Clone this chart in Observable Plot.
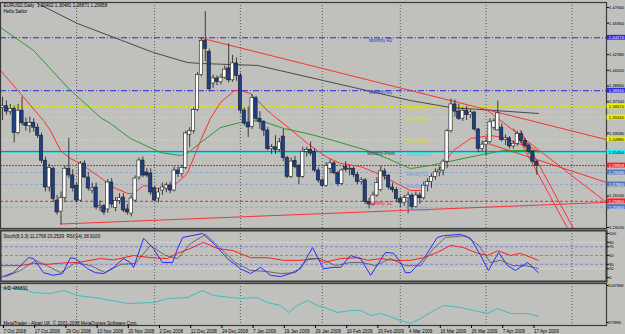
<!DOCTYPE html>
<html><head><meta charset="utf-8">
<script src="https://cdn.jsdelivr.net/npm/d3@7"></script>
<script src="https://cdn.jsdelivr.net/npm/@observablehq/plot@0.6"></script>
<style>
html,body{margin:0;padding:0;background:#c0c0bc;width:625px;height:334px;overflow:hidden}
#main,#stoch,#ad{position:absolute;left:0}
#main{top:0}#stoch{top:229px}#ad{top:282px}
svg{display:block}
</style></head><body>
<div id="main"></div><div id="stoch"></div><div id="ad"></div>
<script>
// ---------- DATA ----------
const title = "EURUSD,Daily  1.30402 1.30481 1.28871 1.29958";
const subtitle = "Hello Sailor";
const open = [1.3640,1.3660,1.3600,1.3630,1.3360,1.3610,1.3470,1.3440,1.3475,1.3420,1.3330,1.3050,1.2750,1.2960,1.2604,1.2480,1.2630,1.2960,1.2885,1.2770,1.2604,1.3018,1.2862,1.2716,1.2750,1.2526,1.2540,1.2504,1.2806,1.2520,1.2600,1.2638,1.2504,1.2458,1.2604,1.2862,1.3052,1.2918,1.2907,1.2739,1.2627,1.2716,1.2739,1.2773,1.2716,1.2940,1.2900,1.2970,1.3340,1.3380,1.3620,1.4010,1.4390,1.4270,1.3915,1.3971,1.3930,1.3980,1.4084,1.3950,1.4140,1.4000,1.3612,1.3470,1.3430,1.3750,1.3520,1.3480,1.3388,1.3180,1.3200,1.3170,1.3320,1.3080,1.2870,1.3050,1.2990,1.2870,1.3150,1.3170,1.3150,1.2940,1.2828,1.2770,1.2960,1.3020,1.2910,1.2790,1.2980,1.2950,1.2960,1.2890,1.2810,1.2830,1.2590,1.2560,1.2660,1.2720,1.2930,1.2880,1.2750,1.2720,1.2620,1.2580,1.2630,1.2660,1.2530,1.2660,1.2630,1.2770,1.2810,1.2870,1.2920,1.2940,1.3040,1.3380,1.3680,1.3600,1.3520,1.3610,1.3560,1.3590,1.3400,1.3180,1.3230,1.3260,1.3420,1.3390,1.3420,1.3280,1.3300,1.3210,1.3240,1.3350,1.3270,1.3220,1.3150,1.30402];
const high = [1.3760,1.3720,1.3680,1.3660,1.3680,1.3760,1.3530,1.3540,1.3520,1.3460,1.3360,1.3090,1.3010,1.2980,1.2660,1.2700,1.2990,1.3300,1.2950,1.2800,1.3040,1.3050,1.2920,1.2800,1.2800,1.2600,1.2560,1.2840,1.2850,1.2640,1.2680,1.2680,1.2560,1.2660,1.2880,1.3080,1.3090,1.2960,1.2960,1.2760,1.2740,1.2800,1.2800,1.2810,1.2980,1.2980,1.3000,1.3380,1.3420,1.3640,1.4040,1.4420,1.4720,1.4300,1.4010,1.4000,1.4020,1.4110,1.4360,1.4230,1.4200,1.4030,1.3640,1.3650,1.3790,1.3770,1.3600,1.3500,1.3420,1.3230,1.3330,1.3300,1.3400,1.3100,1.3080,1.3100,1.3010,1.3200,1.3200,1.3260,1.3180,1.2970,1.2850,1.3030,1.3060,1.3040,1.2930,1.2960,1.3040,1.2990,1.2980,1.2920,1.2860,1.2850,1.2630,1.2700,1.2860,1.2990,1.2960,1.2900,1.2800,1.2750,1.2650,1.2660,1.2700,1.2680,1.2700,1.2690,1.2810,1.2850,1.2900,1.2960,1.2980,1.3060,1.3400,1.3740,1.3730,1.3680,1.3640,1.3660,1.3620,1.3600,1.3410,1.3270,1.3300,1.3520,1.3520,1.3720,1.3460,1.3340,1.3320,1.3270,1.3380,1.3380,1.3300,1.3240,1.3160,1.30481];
const low = [1.3500,1.3560,1.3560,1.3250,1.3340,1.3440,1.3380,1.3360,1.3370,1.3300,1.3020,1.2700,1.2700,1.2580,1.2440,1.2330,1.2580,1.2850,1.2700,1.2580,1.2590,1.2850,1.2710,1.2680,1.2500,1.2480,1.2440,1.2460,1.2520,1.2480,1.2560,1.2470,1.2440,1.2420,1.2580,1.2830,1.2860,1.2860,1.2660,1.2590,1.2580,1.2660,1.2690,1.2680,1.2700,1.2860,1.2860,1.2950,1.3200,1.3350,1.3600,1.3990,1.4160,1.3820,1.3860,1.3890,1.3900,1.3960,1.3920,1.3930,1.3940,1.3580,1.3440,1.3310,1.3400,1.3490,1.3400,1.3320,1.3160,1.3120,1.3120,1.3150,1.3040,1.2850,1.2850,1.2960,1.2780,1.2850,1.3090,1.3100,1.2920,1.2800,1.2750,1.2750,1.2900,1.2890,1.2760,1.2770,1.2920,1.2880,1.2860,1.2780,1.2780,1.2560,1.2510,1.2540,1.2640,1.2700,1.2830,1.2720,1.2690,1.2580,1.2520,1.2540,1.2457,1.2500,1.2520,1.2560,1.2610,1.2700,1.2740,1.2830,1.2870,1.2880,1.2960,1.3360,1.3540,1.3500,1.3490,1.3500,1.3520,1.3380,1.3140,1.3150,1.3110,1.3240,1.3390,1.3380,1.3260,1.3220,1.3180,1.3180,1.3210,1.3240,1.3190,1.3120,1.3020,1.28871];
const close = [1.3660,1.3600,1.3630,1.3360,1.3610,1.3470,1.3440,1.3475,1.3420,1.3330,1.3050,1.2750,1.2970,1.2620,1.2470,1.2630,1.2960,1.2885,1.2740,1.2604,1.3018,1.2862,1.2739,1.2739,1.2526,1.2540,1.2470,1.2806,1.2560,1.2600,1.2630,1.2492,1.2470,1.2627,1.2850,1.3052,1.2884,1.2884,1.2694,1.2604,1.2694,1.2750,1.2773,1.2716,1.2940,1.2900,1.2970,1.3355,1.3380,1.3620,1.4010,1.4390,1.4300,1.3850,1.3971,1.3930,1.3980,1.4070,1.3950,1.4140,1.4000,1.3612,1.3466,1.3422,1.3750,1.3520,1.3480,1.3388,1.3180,1.3200,1.3170,1.3255,1.3080,1.2870,1.3040,1.2980,1.2870,1.3150,1.3170,1.3130,1.2940,1.2828,1.2770,1.2990,1.3020,1.2910,1.2790,1.2940,1.2950,1.2960,1.2890,1.2810,1.2830,1.2590,1.2560,1.2660,1.2800,1.2930,1.2880,1.2750,1.2720,1.2620,1.2580,1.2630,1.2660,1.2530,1.2660,1.2630,1.2770,1.2810,1.2870,1.2920,1.2940,1.3040,1.3380,1.3680,1.3600,1.3520,1.3610,1.3560,1.3590,1.3400,1.3180,1.3230,1.3260,1.3480,1.3490,1.3580,1.3280,1.3300,1.3210,1.3240,1.3350,1.3270,1.3220,1.3150,1.3040,1.29958];

// x-axis date labels (bar index of each label)
const dateTickIdx = [0,8,16,24,32,40,48,56,64,72,80,88,96,104,112,120,128,136];
const dateLabels = ["7 Oct 2008","17 Oct 2008","29 Oct 2008","10 Nov 2008","20 Nov 2008","2 Dec 2008","12 Dec 2008","24 Dec 2008","7 Jan 2009","19 Jan 2009","29 Jan 2009","10 Feb 2009","20 Feb 2009","4 Mar 2009","16 Mar 2009","26 Mar 2009","7 Apr 2009","17 Apr 2009"];
// month separators (bar index)
const sepIdx = [19,39,61,82,102,124,146];
// price axis ticks
const priceTicks = [1.4766,1.4590,1.4414,1.4238,1.4062,1.3886,1.3710,1.3534,1.3358,1.3182,1.3006,1.2830,1.2654,1.2478,1.2302];

// pivot levels
const levelNames  = ["Monthly R2","Monthly R1","Weekly R3","Weekly R2","Weekly R1","Monthly Pivot","WeeklyPivot","Weekly S1","Weekly S2","Monthly S1","Weekly S3"];
const levelValues = [1.44270,1.38340,1.36570,1.35340,1.32880,1.31540,1.31450,1.29180,1.27840,1.25950,1.25300];
const levelLineColors = ["#2a2ae0","#2a2ae0","#e6e600","#e6e600","#e6e600","#2050c8","#20d8e0","#90a8d8","#90a8d8","#e02838","#90a8d8"];
const levelTextColors = ["#3030d8","#3030d8","#dede00","#dede00","#dede00","#303040","#20e0e8","#7c98d8","#7c98d8","#e02838","#7c98d8"];
const levelBoxColors  = ["#2a2ae0","#2a2ae0","#f0f000","#f0f000","#f0f000",null,"#20f0f8","#4f78c0","#4f78c0","#f02030","#4f78c0"];
const levelDash = ["6,2,1,2","6,2,1,2","3,2","3,2","3,2",null,null,"3,2","3,2","3,2","3,2"];
const levelLabelIdx = [94,94,103.5,103.5,103.5,93.5,103.5,103.5,103.5,94,103.5];
const priceNow = 1.29958;

// moving averages: [bar index, price]
const maSlow = [[9.0,1.4811],[19.2,1.4587],[38.7,1.4262],[47.4,1.4150],[50.8,1.4139],[65.4,1.4117],[82.3,1.3948],[104.6,1.3724],[114.9,1.3646],[137.4,1.3579]];
const maMid = [[-0.5,1.4542],[8,1.4284],[16.7,1.3870],[25.1,1.3534],[27.7,1.3467],[32.8,1.3299],[40.5,1.3142],[45.6,1.3108],[47.4,1.3131],[50.8,1.3254],[55.9,1.3422],[61,1.3478],[66.2,1.3500],[72.1,1.3411],[78.2,1.3354],[84.9,1.3276],[93.6,1.3164],[98.7,1.3075],[104.6,1.2962],[109.7,1.2996],[121.8,1.3108],[128.5,1.3164],[137.2,1.3164]];
const maFast = [[-0.5,1.4060],[4.6,1.3802],[10.5,1.3500],[12.3,1.3388],[14.9,1.3164],[17.4,1.3074],[20,1.3019],[21.8,1.2962],[25.1,1.2862],[28.5,1.2750],[32.1,1.2683],[33.6,1.2683],[36.2,1.2772],[39.7,1.2739],[42.3,1.2750],[44.9,1.2806],[47.4,1.2906],[50.8,1.3276],[53.3,1.3522],[55.9,1.3702],[59.5,1.3836],[61,1.3836],[63.6,1.3802],[65.4,1.3724],[67.9,1.3612],[72.6,1.3444],[76.4,1.3310],[78.2,1.3242],[83.3,1.3086],[86.7,1.3019],[91.8,1.2985],[95.6,1.2918],[98.7,1.2850],[102.1,1.2772],[104.6,1.2716],[107.2,1.2716],[109.7,1.2828],[113.1,1.3019],[115.6,1.3164],[120,1.3298],[125.1,1.3332],[128.5,1.3310],[132.1,1.3243],[136.2,1.3186],[137.4,1.3142]];
// red trend lines: pairs of [bar index, price]
const trendLines = [
  [[51.3,1.4419],[154.9,1.3286]],
  [[14.9,1.2341],[154.9,1.2583]],
  [[124.4,1.3612],[154.9,1.2582]],
  [[124.4,1.3243],[154.9,1.2806]],
  [[131.0,1.3411],[144.9,1.2291]],
  [[132.8,1.3388],[146.4,1.2291]]
];

// Stochastic / RSI panel: [bar index, value]
const stochMain = [[-0.5,0],[2.8,11],[6.7,45],[8,43],[10.5,11],[13,5],[15.4,9],[17.4,45],[18.7,43],[21.8,20],[23.8,11],[25.9,9],[28.5,23],[31,43],[32.8,34],[33.6,23],[36.2,89],[38.7,66],[41,34],[43.6,34],[44.9,66],[46.2,91],[51.3,100],[54.6,73],[57.7,43],[61,20],[63.6,9],[66.2,23],[68.7,5],[71.3,2],[73.8,9],[76.4,20],[79.5,68],[82.3,20],[84.9,23],[86.7,23],[89.2,50],[91.8,43],[94.4,5],[98.2,57],[100.3,55],[102.1,34],[103.3,11],[104.6,11],[108,43],[111.5,91],[113.1,95],[117.4,98],[120,89],[122.6,50],[124.6,16],[127.2,57],[129.5,27],[131.5,16],[134.6,34],[137.4,11.28]];
const stochSignal = [[0.8,2],[4.6,16],[8.5,39],[11.8,25],[14.9,11],[18.7,34],[22.6,27],[26.4,11],[30.3,30],[34.1,32],[37.9,73],[41.8,50],[44.9,43],[48.2,77],[52.1,98],[55.9,66],[59.7,34],[63.6,16],[67.4,14],[71.3,9],[75.1,11],[78.5,43],[81.5,43],[85.4,27],[89.2,34],[92.3,34],[95.6,27],[99.5,43],[103.3,27],[107.2,27],[110.5,66],[113.6,91],[118.7,95],[122.1,73],[125.1,34],[127.7,39],[130.8,27],[134.1,27],[137.4,20.25]];
const rsi = [[-0.5,27],[4.6,27],[8,32],[11.5,30],[15.4,33],[19.2,34],[25.1,43],[28.5,40],[33.6,50],[38,45],[42.3,43],[44.9,55],[48.2,66],[51.5,80],[53.3,73],[55.1,66],[59.2,61],[63.6,45],[68,45],[72.1,39],[76.4,39],[80.8,43],[82.3,34],[86.7,43],[91.3,45],[93.6,39],[97,43],[100.3,39],[104.6,39],[108,45],[111.5,57],[114.9,73],[118.2,68],[121.8,55],[124.4,50],[127,61],[130.3,50],[132.8,55],[137.4,38.91]];
const stochLevels = [80,70,50,30,20];
const stochTicks = [0,20,30,50,70,80,100];
const stochLabel = "Stoch(8,3,3) 11.2769 20.2539  RSI(14) 38.9100";

// A/D panel: [bar index, value]
const adLine = [[-0.5,1011518],[4.6,993303],[7.9,920443],[12.3,902228],[15.6,956873],[19.2,865798],[25.1,811153],[32.1,720078],[38.7,738293],[42.3,811153],[47.4,829368],[51.3,956873],[54.1,865798],[61,811153],[65.4,829368],[67.9,738293],[71.3,683648],[73.3,556143],[75.6,683648],[78.2,774723],[80.8,683648],[83.3,629003],[85.9,556143],[89.2,592573],[91.8,592573],[94.4,501498],[96.9,537928],[98.7,501498],[102,410423],[104.6,355778],[107.2,446853],[109.7,556143],[113.1,683648],[117.4,647218],[120.8,592573],[124.4,537928],[126.9,629003],[130.3,537928],[134.6,537928],[137.4,486891]];
const adTicks = [373990,1047948];
const adLabel = "A/D 486891";
const copyright = "MetaTrader - Alpari UK, © 2001-2008 MetaQuotes Software Corp.";

// ---------- BUILD ----------
const FONT = "Liberation Sans, Arial, sans-serif";
const FS = 4.6;
const AFS = 4.2;
const XDOM = [-0.513, 154.87];
const XBOX = 160.5;
const bars = open.map((o,i)=>({i, open:o, high:high[i], low:low[i], close:close[i]}));
const levels = levelNames.map((n,k)=>({name:n, value:levelValues[k], line:levelLineColors[k], text:levelTextColors[k], box:levelBoxColors[k], dash:levelDash[k], lx:levelLabelIdx[k]}));
const boxes = levels.filter(l=>l.box).map(l=>({value:l.value, fill:l.box, tfill: (l.box==="#f0f000"||l.box==="#20f0f8")?"#000":"#fff"}));
boxes.push({value:priceNow, fill:"#f02030", tfill:"#fff"});
// plain ticks hidden behind a coloured box (as on the terminal)
const visibleTicks = priceTicks.filter(t => !boxes.some(b => Math.abs(b.value - t) < 0.0052));
const styleBase = {background:"transparent", fontFamily:FONT, fontSize:FS+"px", overflow:"visible", color:"#000"};
const seps = () => Plot.ruleX(sepIdx, {x:d=>d, stroke:"#3c3c3c", strokeDasharray:"1,2", strokeWidth:0.8});

const main = Plot.plot({
  width:625, height:229, marginLeft:0, marginRight:19, marginTop:2, marginBottom:1,
  style:styleBase,
  x:{domain:XDOM, axis:null},
  y:{domain:[1.22908,1.4822], axis:null},
  marks:[
    seps(),
    ...levels.map(l=>Plot.ruleY([l.value], {stroke:l.line, strokeWidth:1, strokeDasharray:l.dash||null})),
    Plot.ruleY([priceNow], {stroke:"#e02030", strokeWidth:1, strokeDasharray:"2,1"}),
    Plot.line(maSlow, {x:d=>d[0], y:d=>d[1], stroke:"#4a4a4a", strokeWidth:1, clip:true}),
    Plot.line(maMid, {x:d=>d[0], y:d=>d[1], stroke:"#2f9a2f", strokeWidth:1, clip:true}),
    Plot.line(maFast, {x:d=>d[0], y:d=>d[1], stroke:"#ff3030", strokeWidth:1, clip:true}),
    ...trendLines.map(t=>Plot.line(t, {x:d=>d[0], y:d=>d[1], stroke:"#ff2424", strokeWidth:0.9, clip:true})),
    Plot.ruleX(bars, {x:"i", y1:"low", y2:"high", stroke:"#1a1a1a", strokeWidth:0.8}),
    Plot.rect(bars, {x1:d=>d.i-0.42, x2:d=>d.i+0.42, y1:"open", y2:"close",
      fill:d=>d.close>=d.open?"#ffffff":"#1e3f8c", stroke:"#1a1a1a", strokeWidth:0.6}),
    Plot.text(levels, {x:"lx", y:"value", text:"name", fill:"text", textAnchor:"start", lineAnchor:"top", dy:0.5, fontSize:FS}),
    Plot.text([title], {frameAnchor:"top-left", dx:3, dy:1, fill:"#000", fontSize:FS, lineAnchor:"top"}),
    Plot.text([subtitle], {frameAnchor:"top-left", dx:3, dy:7, fill:"#000", fontSize:FS, lineAnchor:"top"}),
    Plot.frame({stroke:"#3a3a3a", strokeWidth:1.2}),
    Plot.axisY(visibleTicks, {anchor:"right", tickSize:2, tickPadding:0.5, tickFormat:d=>d.toFixed(5), fontSize:AFS, fill:"#000", stroke:"#000"}),
    Plot.rect(boxes, {x1:()=>XDOM[1]+0.15, x2:()=>XBOX, y1:d=>d.value-0.0027, y2:d=>d.value+0.0027, fill:"fill"}),
    Plot.text(boxes, {x:()=>XDOM[1]+0.6, y:"value", text:d=>d.value.toFixed(5), fill:"tfill", textAnchor:"start", fontSize:AFS})
  ]
});
document.getElementById("main").append(main);

const stoch = Plot.plot({
  width:625, height:53, marginLeft:0, marginRight:19, marginTop:1, marginBottom:1,
  style:styleBase,
  x:{domain:XDOM, axis:null},
  y:{domain:[0,100], range:[48,4], axis:null},
  marks:[
    seps(),
    Plot.ruleY(stochLevels.filter(v=>v===80||v===20), {stroke:"#f4f4f4", strokeDasharray:"1,1.5", strokeWidth:0.9}),
    Plot.ruleY(stochLevels.filter(v=>v!==80&&v!==20), {stroke:"#7a7ae8", strokeDasharray:"3,2", strokeWidth:0.9}),
    Plot.line(rsi, {x:d=>d[0], y:d=>d[1], stroke:"#ff2020", strokeWidth:1, clip:true}),
    Plot.line(stochSignal, {x:d=>d[0], y:d=>d[1], stroke:"#505050", strokeWidth:0.9, strokeDasharray:"1,1", clip:true}),
    Plot.line(stochMain, {x:d=>d[0], y:d=>d[1], stroke:"#2b2bff", strokeWidth:1, clip:true}),
    Plot.text([stochLabel], {frameAnchor:"top-left", dx:3, dy:4, fill:"#000", fontSize:FS, lineAnchor:"top"}),
    Plot.frame({stroke:"#3a3a3a", strokeWidth:2}),
    Plot.axisY(stochTicks, {anchor:"right", tickSize:2, tickPadding:0.5, fontSize:AFS, fill:"#000", stroke:"#000"})
  ]
});
document.getElementById("stoch").append(stoch);

const ad = Plot.plot({
  width:625, height:52, marginLeft:0, marginRight:19, marginTop:1, marginBottom:9,
  style:styleBase,
  x:{domain:XDOM},
  y:{domain:[373990,1047948], range:[40,3], axis:null},
  marks:[
    seps(),
    Plot.line(adLine, {x:d=>d[0], y:d=>d[1], stroke:"#3fbcbc", strokeWidth:1, clip:true}),
    Plot.text([adLabel], {frameAnchor:"top-left", dx:3, dy:3, fill:"#000", fontSize:FS, lineAnchor:"top"}),
    Plot.text([copyright], {frameAnchor:"bottom-left", dx:3, dy:-1, fill:"#000", fontSize:FS, lineAnchor:"bottom"}),
    Plot.frame({stroke:"#3a3a3a", strokeWidth:1.2}),
    Plot.axisY(adTicks, {anchor:"right", tickSize:1.5, tickPadding:0.3, tickFormat:d=>String(d), fontSize:3.9, fill:"#000", stroke:"#000"}),
    Plot.axisX(dateTickIdx, {anchor:"bottom", tickSize:3, tickPadding:1, textAnchor:"start", dx:1,
      tickFormat:(d)=>dateLabels[dateTickIdx.indexOf(d)], fontSize:FS, fill:"#000", stroke:"#000", label:null})
  ]
});
document.getElementById("ad").append(ad);
</script></body></html>
